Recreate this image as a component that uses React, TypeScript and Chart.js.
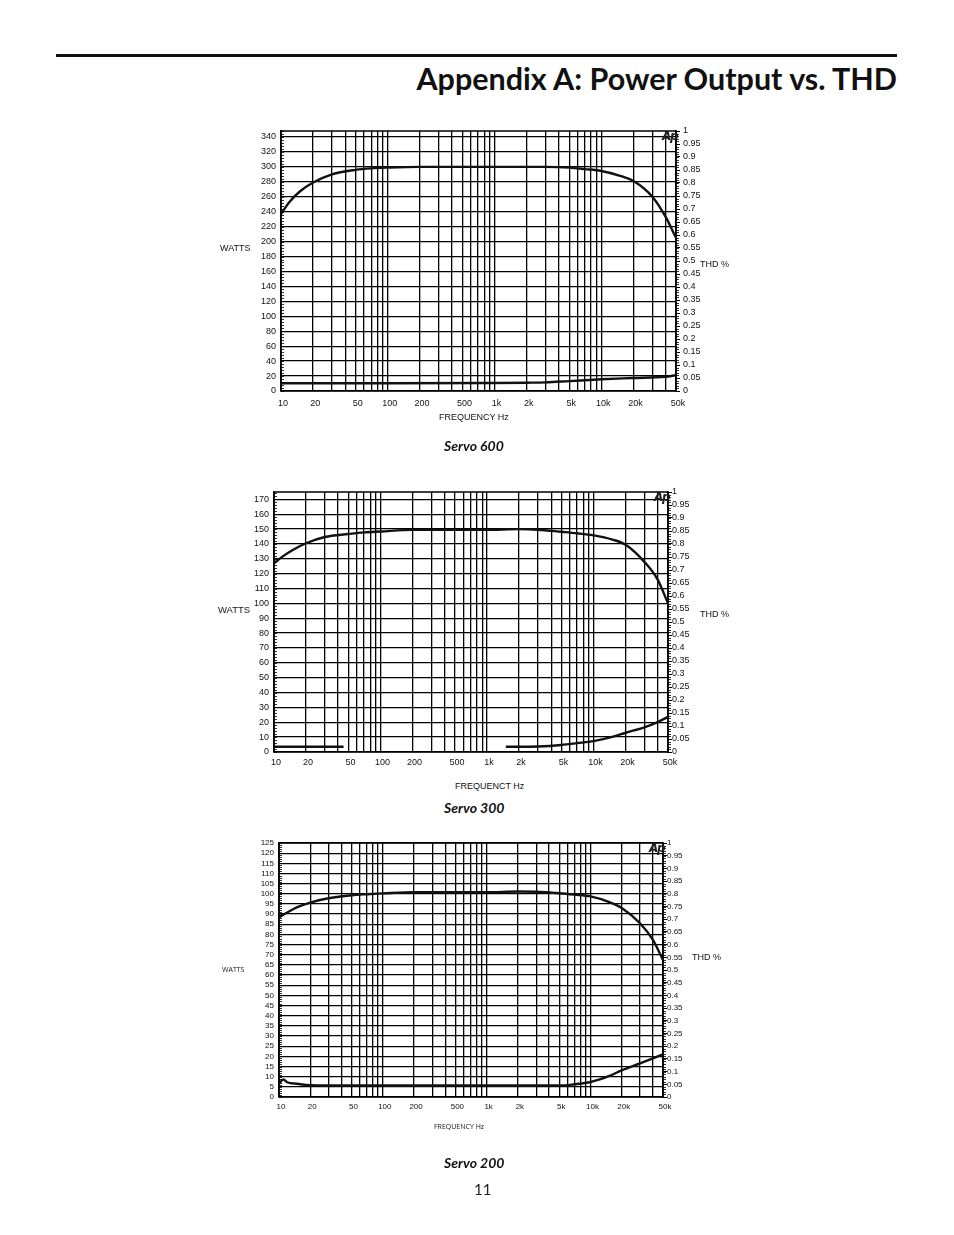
import { useEffect, useRef } from 'react';
import { Chart, registerables } from 'chart.js';

Chart.register(...registerables);

// vertical grid lines of the Audio Precision sweep (Hz)
const GRID_FREQS = [
  10, 20, 30, 40, 50, 60, 70, 80, 90,
  100, 200, 300, 400, 500, 600, 700, 800, 900,
  1000, 2000, 3000, 4000, 5000, 6000, 7000, 8000, 9000,
  10000, 20000, 30000, 40000, 50000,
];
const LABELED_FREQS = [10, 20, 50, 100, 200, 500, 1000, 2000, 5000, 10000, 20000, 50000];
const THD_TICKS = [0, 0.05, 0.1, 0.15, 0.2, 0.25, 0.3, 0.35, 0.4, 0.45, 0.5, 0.55, 0.6, 0.65, 0.7, 0.75, 0.8, 0.85, 0.9, 0.95, 1];

// Servo 600
const S600_FREQ = [10, 12, 15, 20, 30, 50, 70, 100, 200, 500, 1000, 2000, 3000, 5000, 7000, 10000, 15000, 20000, 30000, 40000, 50000];
const S600_WATTS = [237, 253, 267, 279, 290, 296, 298, 299, 300, 300, 300, 300, 300, 299, 297, 294.5, 288, 281, 260, 233, 205];
const S600_THD_FREQ = [10, 100, 1000, 2000, 3000, 5000, 10000, 20000, 40000, 50000];
const S600_THD = [0.03, 0.03, 0.031, 0.032, 0.033, 0.038, 0.045, 0.05, 0.055, 0.061];
const S600_WATT_TICKS = [0, 20, 40, 60, 80, 100, 120, 140, 160, 180, 200, 220, 240, 260, 280, 300, 320, 340];

// Servo 300
const S300_FREQ = [10, 12, 15, 20, 30, 50, 70, 100, 200, 500, 1000, 2000, 3000, 5000, 7000, 10000, 15000, 20000, 30000, 40000, 50000];
const S300_WATTS = [127, 131.5, 136, 140.5, 144.7, 146.7, 147.8, 148.4, 149.5, 149.5, 149.5, 150, 149.6, 148.2, 147.2, 145.8, 143, 139.5, 128, 116, 100];
const S300_THD_FREQ = [10, 20, 45, 300, 1500, 2000, 3000, 5000, 7000, 10000, 15000, 20000, 30000, 40000, 50000];
const S300_THD = [0.02, 0.02, 0.02, null, 0.02, 0.02, 0.021, 0.027, 0.034, 0.042, 0.058, 0.074, 0.095, 0.115, 0.135];
const S300_WATT_TICKS = [0, 10, 20, 30, 40, 50, 60, 70, 80, 90, 100, 110, 120, 130, 140, 150, 160, 170];

// Servo 200
const S200_FREQ = [10, 12, 15, 20, 30, 50, 70, 100, 200, 500, 1000, 2000, 3000, 5000, 7000, 10000, 15000, 20000, 30000, 40000, 50000];
const S200_WATTS = [88.5, 90.8, 93.4, 95.7, 97.8, 99.3, 99.8, 100.2, 100.8, 100.8, 100.8, 101.1, 101, 100.3, 99.6, 98.7, 96, 93, 85.5, 77.3, 67.4];
const S200_THD_FREQ = [10, 11, 12, 15, 20, 30, 100, 1000, 5000, 7000, 10000, 15000, 20000, 30000, 40000, 50000];
const S200_THD = [0.053, 0.069, 0.058, 0.052, 0.046, 0.045, 0.045, 0.045, 0.045, 0.05, 0.059, 0.082, 0.105, 0.132, 0.152, 0.168];
const S200_WATT_TICKS = [0, 5, 10, 15, 20, 25, 30, 35, 40, 45, 50, 55, 60, 65, 70, 75, 80, 85, 90, 95, 100, 105, 110, 115, 120, 125];

const fmtFreq = (f: number) => (f >= 1000 ? `${f / 1000}k` : String(f));

// black outline round the plot area
const framePlugin = {
  id: 'frame',
  beforeDatasetsDraw(chart: any) {
    const { ctx, chartArea: a } = chart;
    ctx.save();
    ctx.strokeStyle = '#000';
    ctx.lineWidth = 1.5;
    ctx.strokeRect(a.left, a.top, a.right - a.left, a.bottom - a.top);
    ctx.restore();
  },
};

// the small in-between ticks on both value axes
const minorTicksPlugin = {
  id: 'minorTicks',
  afterDraw(chart: any, _args: any, opts: any) {
    const { ctx, chartArea: a, scales } = chart;
    ctx.save();
    ctx.strokeStyle = '#000';
    ctx.lineWidth = 0.8;
    ctx.beginPath();
    const y = scales.y;
    for (let v = 0; v <= y.max + 1e-9; v += opts.left) {
      const py = Math.round(y.getPixelForValue(v)) + 0.5;
      ctx.moveTo(a.left, py);
      ctx.lineTo(a.left + 3, py);
    }
    const y1 = scales.y1;
    for (let i = 0; i <= 100; i++) {
      const py = Math.round(y1.getPixelForValue(i / 100)) + 0.5;
      ctx.moveTo(a.right, py);
      ctx.lineTo(a.right + 3, py);
    }
    ctx.stroke();
    ctx.restore();
  },
};

type Box = { left: number; top: number; width: number; height: number };
type Plot = { left: number; top: number; right: number; bottom: number };

type Spec = {
  freq: number[];
  watts: number[];
  thdFreq: number[];
  thd: (number | null)[];
  wattTicks: number[];
  wattMax: number;
  wattMinor: number;
  box: Box;
  plot: Plot;
  fontSize: number;
  rightPad: number;
  xPad: number;
};

function SweepChart({ spec }: { spec: Spec }) {
  const ref = useRef<HTMLCanvasElement>(null);

  useEffect(() => {
    if (!ref.current) return;
    const { box, plot } = spec;
    const font = { family: 'Liberation Sans, Arial, sans-serif', size: spec.fontSize };
    const line = {
      borderColor: '#111',
      borderWidth: 2.4,
      pointRadius: 0,
      cubicInterpolationMode: 'monotone' as const,
      spanGaps: false,
    };

    const chart = new Chart(ref.current, {
      type: 'line',
      data: {
        datasets: [
          { ...line, yAxisID: 'y', data: spec.freq.map((f, i) => ({ x: f, y: spec.watts[i] })) },
          { ...line, yAxisID: 'y1', data: spec.thdFreq.map((f, i) => ({ x: f, y: spec.thd[i] })) },
        ],
      },
      options: {
        animation: false,
        responsive: false,
        maintainAspectRatio: false,
        events: [],
        layout: { padding: { top: plot.top - box.top, left: 0, right: 0, bottom: 0 } },
        plugins: {
          legend: { display: false },
          tooltip: { enabled: false },
          minorTicks: { left: spec.wattMinor },
        } as any,
        scales: {
          x: {
            type: 'logarithmic',
            min: 10,
            max: 50000,
            afterBuildTicks: (s: any) => {
              s.ticks = GRID_FREQS.map((v) => ({ value: v }));
            },
            afterFit: (s: any) => {
              s.height = box.top + box.height - plot.bottom;
            },
            ticks: {
              autoSkip: false,
              maxRotation: 0,
              padding: spec.xPad,
              labelOffset: 2,
              color: '#111',
              font,
              callback: (v: any) => (LABELED_FREQS.includes(Number(v)) ? fmtFreq(Number(v)) : ''),
            },
            grid: { color: '#000', lineWidth: 1.3, drawTicks: false },
            border: { display: false },
          },
          y: {
            type: 'linear',
            position: 'left',
            min: 0,
            max: spec.wattMax,
            afterBuildTicks: (s: any) => {
              s.ticks = spec.wattTicks.map((v) => ({ value: v }));
            },
            afterFit: (s: any) => {
              s.width = plot.left - box.left;
            },
            ticks: { autoSkip: false, padding: 5, color: '#111', font },
            grid: { color: '#000', lineWidth: 1.3, drawTicks: false },
            border: { color: '#000', width: 1.5 },
          },
          y1: {
            type: 'linear',
            position: 'right',
            min: 0,
            max: 1,
            afterBuildTicks: (s: any) => {
              s.ticks = THD_TICKS.map((v) => ({ value: v }));
            },
            afterFit: (s: any) => {
              s.width = box.left + box.width - plot.right;
            },
            ticks: {
              autoSkip: false,
              padding: spec.rightPad,
              color: '#111',
              font,
              callback: (v: any) => String(Number(Number(v).toFixed(2))),
            },
            grid: { drawOnChartArea: false, color: '#000', lineWidth: 1, tickLength: 4 },
            border: { color: '#000', width: 1.5 },
          },
        },
      },
      plugins: [framePlugin, minorTicksPlugin],
    });

    return () => chart.destroy();
  }, [spec]);

  const { box } = spec;
  return (
    <canvas
      ref={ref}
      width={box.width}
      height={box.height}
      style={{ position: 'absolute', left: box.left, top: box.top, width: box.width, height: box.height }}
    />
  );
}

const SPEC_600: Spec = {
  freq: S600_FREQ,
  watts: S600_WATTS,
  thdFreq: S600_THD_FREQ,
  thd: S600_THD,
  wattTicks: S600_WATT_TICKS,
  wattMax: 348,
  wattMinor: 4,
  box: { left: 230, top: 120, width: 500, height: 300 },
  plot: { left: 281, top: 131, right: 676, bottom: 391 },
  fontSize: 9,
  rightPad: 3,
  xPad: 7,
};

const SPEC_300: Spec = {
  freq: S300_FREQ,
  watts: S300_WATTS,
  thdFreq: S300_THD_FREQ,
  thd: S300_THD,
  wattTicks: S300_WATT_TICKS,
  wattMax: 175,
  wattMinor: 2,
  box: { left: 225, top: 480, width: 505, height: 300 },
  plot: { left: 274, top: 492, right: 668, bottom: 752 },
  fontSize: 9,
  rightPad: 0,
  xPad: 5,
};

const SPEC_200: Spec = {
  freq: S200_FREQ,
  watts: S200_WATTS,
  thdFreq: S200_THD_FREQ,
  thd: S200_THD,
  wattTicks: S200_WATT_TICKS,
  wattMax: 125,
  wattMinor: 1,
  box: { left: 225, top: 830, width: 505, height: 300 },
  plot: { left: 279, top: 843, right: 663, bottom: 1097 },
  fontSize: 8,
  rightPad: 0,
  xPad: 5,
};

const abs = (left: number, top: number, extra: any = {}) => ({
  position: 'absolute' as const,
  left,
  top,
  lineHeight: 1,
  whiteSpace: 'nowrap' as const,
  ...extra,
});

const Ap = ({ right, top }: { right: number; top: number }) => (
  <div
    style={abs(0, top, {
      left: undefined,
      right: 954 - right,
      fontFamily: '"DejaVu Sans", sans-serif',
      fontSize: 12,
      fontWeight: 700,
      fontStyle: 'italic',
      letterSpacing: -1.5,
      color: '#222',
    })}
  >
    Ap
  </div>
);

const caption = (text: string, top: number) => (
  <div
    style={abs(444, top, {
      fontFamily: 'Lato, "Open Sans", sans-serif',
      fontWeight: 700,
      fontStyle: 'italic',
      fontSize: 14,
      color: '#111',
    })}
  >
    {text}
  </div>
);

export default function App() {
  return (
    <div
      style={{
        position: 'absolute',
        left: 0,
        top: 0,
        width: 954,
        height: 1235,
        background: '#fff',
        overflow: 'hidden',
        fontFamily: 'Liberation Sans, Arial, sans-serif',
        color: '#111',
      }}
    >
      <div style={{ position: 'absolute', left: 56, top: 54, width: 841, height: 3, background: '#111' }} />
      <div
        style={abs(0, 63, {
          left: undefined,
          right: 57,
          fontFamily: 'Lato, "Open Sans", sans-serif',
          fontWeight: 700,
          fontSize: 30.5,
          color: '#111',
        })}
      >
        Appendix A: Power Output vs. THD
      </div>

      <SweepChart spec={SPEC_600} />
      <div style={abs(220, 244, { fontSize: 9 })}>WATTS</div>
      <div style={abs(700, 260, { fontSize: 9 })}>THD %</div>
      <div style={abs(439, 413, { fontSize: 9 })}>FREQUENCY Hz</div>
      <Ap right={677} top={130} />
      {caption('Servo 600', 439)}

      <SweepChart spec={SPEC_300} />
      <div style={abs(218, 605, { fontSize: 9.5 })}>WATTS</div>
      <div style={abs(700, 610, { fontSize: 9 })}>THD %</div>
      <div style={abs(455, 782, { fontSize: 9 })}>FREQUENCT Hz</div>
      <Ap right={669} top={491} />
      {caption('Servo 300', 801)}

      <SweepChart spec={SPEC_200} />
      <div style={abs(222, 966, { fontSize: 7, fontFamily: '"Open Sans", sans-serif' })}>WATTS</div>
      <div style={abs(692, 953, { fontSize: 9 })}>THD %</div>
      <div style={abs(434, 1123, { fontSize: 7, fontFamily: '"Open Sans", sans-serif' })}>FREQUENCY Hz</div>
      <Ap right={664} top={842} />
      {caption('Servo 200', 1156)}

      <div style={abs(474, 1182, { fontFamily: 'Lato, "Open Sans", sans-serif', fontSize: 15, color: '#222' })}>11</div>
    </div>
  );
}
